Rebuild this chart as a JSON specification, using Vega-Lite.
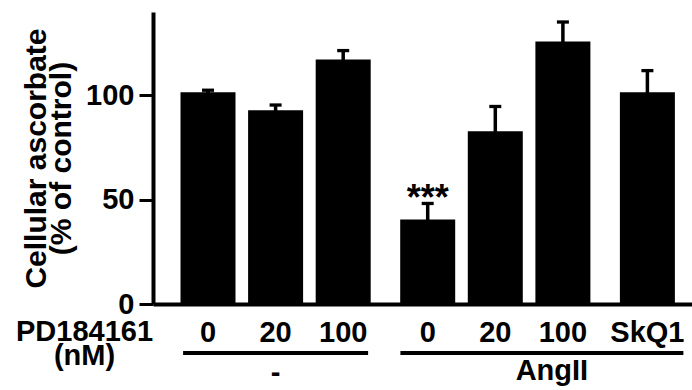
{
  "$schema": "https://vega.github.io/schema/vega-lite/v6.json",
  "width": 539,
  "height": 292,
  "autosize": {"type": "none"},
  "padding": {"left": 153, "top": 12, "right": 0, "bottom": 86},
  "background": "white",
  "config": {
    "view": {"stroke": null},
    "font": "Liberation Sans",
    "axis": {"grid": false}
  },
  "data": {
    "values": [
      {"condition": "- 0", "group": "-", "dose": "0", "mean": 101.5, "sem": 1.0},
      {"condition": "- 20", "group": "-", "dose": "20", "mean": 92.9, "sem": 2.5},
      {"condition": "- 100", "group": "-", "dose": "100", "mean": 117.2, "sem": 4.3},
      {"condition": "AngII 0", "group": "AngII", "dose": "0", "mean": 40.5, "sem": 7.7, "sig": "***"},
      {"condition": "AngII 20", "group": "AngII", "dose": "20", "mean": 82.8, "sem": 11.9},
      {"condition": "AngII 100", "group": "AngII", "dose": "100", "mean": 125.8, "sem": 9.4},
      {"condition": "AngII SkQ1", "group": "AngII", "dose": "SkQ1", "mean": 101.5, "sem": 10.4}
    ]
  },
  "layer": [
    {
      "encoding": {
        "x": {
          "field": "condition",
          "type": "nominal",
          "scale": {
            "type": "band",
            "domain": ["lead1", "lead2", "- 0", "gap1", "gap2", "gap3", "- 20", "gap4", "gap5", "gap6", "- 100", "gap7", "gap8", "gap9", "gap10", "AngII 0", "gap11", "gap12", "gap13", "AngII 20", "gap14", "gap15", "gap16", "AngII 100", "gap17", "gap18", "gap19", "gap20", "AngII SkQ1", "tail1", "tail2"],
            "paddingInner": 0,
            "paddingOuter": 0.447,
            "align": 0.844
          },
          "axis": {
            "orient": "bottom",
            "domainColor": "black",
            "domainWidth": 4,
            "ticks": false,
            "tickSize": 0,
            "labelAngle": 0,
            "labelOverlap": false,
            "labelFlush": false,
            "labelFontSize": 29,
            "labelFontWeight": "bold",
            "labelColor": "black",
            "labelPadding": 14,
            "labelExpr": "indexof(datum.value, ' ') < 0 ? '' : split(datum.value, ' ')[1]",
            "title": ["PD184161", "(nM)"],
            "titleFontSize": 29,
            "titleFontWeight": "bold",
            "titleColor": "black",
            "titleLineHeight": 24,
            "titleAlign": "center",
            "titleAngle": 0,
            "titleBaseline": "alphabetic",
            "titleX": -69,
            "titleY": 36
          }
        },
        "y": {
          "field": "mean",
          "type": "quantitative",
          "scale": {"domain": [0, 140], "nice": false, "zero": true},
          "axis": {
            "values": [0, 50, 100],
            "domainColor": "black",
            "domainWidth": 4,
            "tickColor": "black",
            "tickWidth": 3,
            "tickSize": 14,
            "labelFontSize": 29,
            "labelFontWeight": "bold",
            "labelColor": "black",
            "labelPadding": 5,
            "title": ["Cellular ascorbate", "(% of control)"],
            "titleFontSize": 30,
            "titleFontWeight": "bold",
            "titleColor": "black",
            "titleLineHeight": 25,
            "titlePadding": 9
          }
        }
      },
      "layer": [
        {
          "mark": {"type": "bar", "width": 55, "color": "black"}
        },
        {
          "mark": {
            "type": "errorbar",
            "color": "black",
            "rule": {"strokeWidth": 3.5},
            "ticks": {"size": 12, "thickness": 3.3, "opacity": 1}
          },
          "encoding": {
            "yError": {"field": "sem"}
          }
        },
        {
          "transform": [{"filter": "isValid(datum.sig)"}],
          "mark": {"type": "text", "fontSize": 36, "fontWeight": "bold", "baseline": "alphabetic", "align": "center", "dy": -10, "color": "black"},
          "encoding": {
            "text": {"field": "sig"}
          }
        }
      ]
    },
    {
      "data": {"values": [{"group": "-"}]},
      "mark": {"type": "tick", "orient": "horizontal", "size": 185, "thickness": 4, "yOffset": 49, "color": "black", "opacity": 1},
      "encoding": {
        "x": {"datum": "- 20", "type": "nominal"},
        "y": {"datum": 0, "type": "quantitative"}
      }
    },
    {
      "data": {"values": [{"group": "AngII"}]},
      "mark": {"type": "tick", "orient": "horizontal", "size": 283, "thickness": 4, "yOffset": 49, "xOffset": -21, "color": "black", "opacity": 1},
      "encoding": {
        "x": {"datum": "AngII 100", "type": "nominal"},
        "y": {"datum": 0, "type": "quantitative"}
      }
    },
    {
      "data": {"values": [{"group": "-"}]},
      "mark": {"type": "text", "fontSize": 29, "fontWeight": "bold", "align": "center", "baseline": "alphabetic", "dy": 78, "color": "black"},
      "encoding": {
        "x": {"datum": "- 20", "type": "nominal"},
        "y": {"datum": 0, "type": "quantitative"},
        "text": {"field": "group"}
      }
    },
    {
      "data": {"values": [{"group": "AngII"}]},
      "mark": {"type": "text", "fontSize": 29, "fontWeight": "bold", "align": "center", "baseline": "alphabetic", "dx": -11, "dy": 76, "color": "black"},
      "encoding": {
        "x": {"datum": "AngII 100", "type": "nominal"},
        "y": {"datum": 0, "type": "quantitative"},
        "text": {"field": "group"}
      }
    }
  ]
}
